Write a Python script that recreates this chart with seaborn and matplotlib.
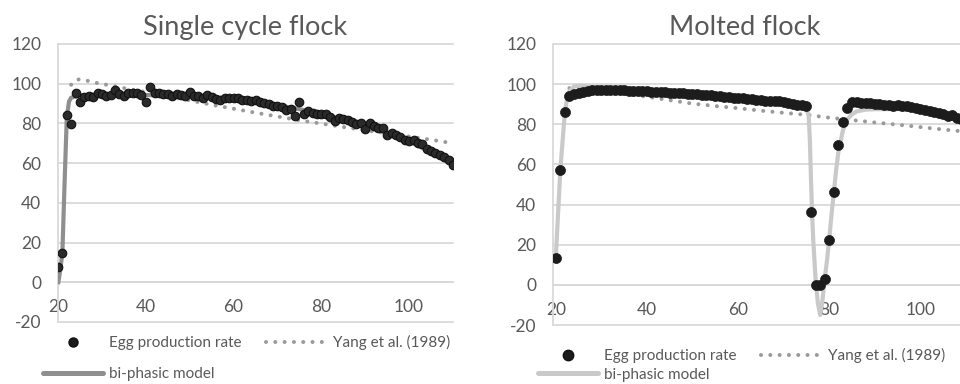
import numpy as np
import pandas as pd
import matplotlib
matplotlib.use("Agg")
import matplotlib.pyplot as plt
import seaborn as sns
from matplotlib.lines import Line2D

sns.set_theme(style="white")
plt.rcParams["font.family"] = ["Lato", "DejaVu Sans"]
plt.rcParams["axes.unicode_minus"] = False

# ---------------- data ----------------
ages_egg = list(range(20, 111))
egg_single = [7.5, 14.5, 84, 79.5, 95.5, 91, 93.5, 94, 93.5, 95.5,
              95, 94, 94.5, 97, 95, 94, 95.5, 95.5, 95.5, 94.5,
              91, 98.5, 95.5, 95.5, 95, 95, 94, 95, 94.5, 94,
              96, 94, 94, 93, 94.5, 93.5, 92.5, 92, 93, 93,
              93, 93, 92, 92, 91.5, 92, 91, 90.5, 90, 89,
              89, 88.5, 87, 87.5, 83.5, 91, 84.5, 86.5, 85.5, 85,
              84.5, 84.5, 83, 81, 82.5, 82, 81.5, 80.5, 79.5, 80,
              77, 80, 78.5, 77.5, 77.5, 74, 75, 74, 73, 71.5,
              71, 71.5, 70, 69.5, 67, 66, 65, 64, 63, 61.5, 59]
egg_molted = [13.5, 57, 86, 94, 95, 95.5, 96.3, 96.8, 97.1, 97.3,
              97.3, 97.2, 97.2, 97.1, 97, 97, 96.8, 96.6, 96.5, 96.5,
              96.4, 96.3, 96.2, 96, 95.9, 95.8, 95.7, 95.6, 95.4, 95.2,
              95.2, 95, 94.8, 94.8, 94.6, 94.3, 94, 93.8, 93.6, 93.2,
              93, 92.9, 92.8, 92.6, 92.2, 92, 91.8, 91.5, 91.4, 91.5,
              91, 90.5, 90, 89.8, 89.5, 89, 36.5, 0, 0, 3,
              22.5, 46.5, 69.5, 81, 88, 91, 91, 90.8, 90.6, 90.4,
              90.3, 90.1, 89.8, 89.6, 89.3, 89.8, 89.3, 88.9, 88.4, 88,
              87.5, 87, 86.5, 86, 85.6, 85, 84, 84.4, 83, 82.5, 82]

bp_single_age = [20, 20.5, 21, 21.5, 22, 22.5, 23, 24, 25, 27, 30, 35, 40, 45,
                 50, 55, 60, 65, 70, 75, 80, 85, 90, 95, 100, 105, 110]
bp_single_val = [-1, 6, 15, 50, 83, 91, 93, 93.5, 94, 94.3, 94.5, 94.5, 94.3, 94,
                 93.5, 92.8, 92, 90.8, 89.2, 87.2, 84.8, 82, 78.8, 75.2, 71, 65.5, 59]

bp_molted_age = [20, 21, 22, 22.5, 23, 24, 25, 27, 30, 35, 40, 45, 50, 55, 60, 65,
                 70, 72, 73, 74, 74.5, 75, 75.5, 75.75, 76, 76.25, 76.5, 77, 77.5,
                 78, 78.5, 79, 79.5, 80, 80.5, 81, 81.5, 82, 83, 84, 85, 86, 88,
                 90, 95, 100, 105, 110]
bp_molted_val = [13, 57, 86, 93, 96.5, 98.8, 99.3, 98.8, 97.8, 97, 96.3, 95.6, 94.9,
                 94.1, 93.2, 92.2, 91, 90.3, 89.8, 89, 88.5, 88, 84, 72, 52, 35, 22,
                 3, -9, -15, -8, 3, 12, 23, 35, 46, 57, 66, 77, 82.5, 85, 86.4, 87.3,
                 87.5, 87.6, 87, 85, 82]

yang_single_age = [23, 24.5, 26.5, 28.5, 31, 35, 40, 45, 50, 55, 60, 65, 70, 75,
                   80, 85, 90, 95, 100, 105, 110]
yang_single_val = [99.5, 102.2, 101.6, 100.5, 99.5, 97.8, 95.8, 93.8, 91.6, 89.4,
                   87.4, 85.4, 83.5, 81.6, 79.9, 78.2, 76.6, 75, 73.4, 71.8, 70]

yang_molted_age = [23, 25, 30, 35, 40, 45, 50, 55, 60, 65, 70, 75, 80, 85, 90,
                   95, 100, 105, 110]
yang_molted_val = [98, 98.5, 96.8, 95.3, 93.7, 92.0, 90.3, 89.1, 88.0, 86.8,
                   85.7, 84.7, 83.3, 82.1, 80.9, 79.8, 78.6, 77.4, 76.3]

titles = ["Single cycle flock", "Molted flock"]
xticks = [20, 40, 60, 80, 100]
yticks = [-20, 0, 20, 40, 60, 80, 100, 120]
labels = ["Egg production rate", "Yang et al. (1989)", "bi-phasic model"]

# ---------------- figure ----------------
W, H = 960, 384
fig = plt.figure(figsize=(W / 100, H / 100), dpi=100)

def px_axes(l, r, t, b):
    return fig.add_axes([l / W, 1 - b / H, (r - l) / W, (b - t) / H])

axL = px_axes(58, 453, 44, 322)
axR = px_axes(553, 966, 44, 325)

TXT = "#595959"
GRID = "#d9d9d9"
YANG = "#9a9a9a"
DOTS = (0, (0.01, 2.3))

panels = [
    (axL, egg_single, bp_single_age, bp_single_val, yang_single_age, yang_single_val,
     "#8f8f8f", (20, 110), dict(s=38, color="#2a2a2a", edgecolor="#111111", linewidth=0.8)),
    (axR, egg_molted, bp_molted_age, bp_molted_val, yang_molted_age, yang_molted_val,
     "#c9c9c9", (19.4, 110), dict(s=52, color="#1c1c1c", edgecolor="#1c1c1c", linewidth=0.5)),
]

for ax, egg, bpa, bpv, ya, yv, bpcol, xlim, mk in panels:
    ax.set_xlim(*xlim)
    ax.set_ylim(-20, 120)
    ax.set_yticks(yticks)
    ax.set_xticks(xticks)
    ax.grid(axis="y", color=GRID, linewidth=1.3)
    ax.grid(axis="x", visible=False)
    for g in ax.get_ygridlines():
        g.set_clip_on(False)
    sns.lineplot(x=ya, y=yv, ax=ax, color=YANG, linewidth=2.9,
                 linestyle=DOTS, dash_capstyle="round", zorder=2)
    sns.lineplot(x=bpa, y=bpv, ax=ax, color=bpcol, linewidth=3.0, zorder=3,
                 solid_capstyle="butt")
    sns.scatterplot(x=ages_egg, y=egg, ax=ax, zorder=4, **mk)
    for s in ["top", "right"]:
        ax.spines[s].set_visible(False)
    ax.spines["bottom"].set_position(("data", 0))
    ax.spines["bottom"].set_color(GRID)
    ax.spines["bottom"].set_linewidth(1.3)
    ax.spines["left"].set_color(GRID)
    ax.spines["left"].set_linewidth(1.3)
    ax.tick_params(axis="both", length=0, labelsize=12.5, labelcolor=TXT)
    ax.tick_params(axis="x", pad=12)
    ax.tick_params(axis="y", pad=12)
    ax.set_xlabel("")
    ax.set_ylabel("")

# titles
fig.text(245 / W, 1 - 35 / H, titles[0], ha="center", va="baseline",
         fontsize=19.5, color=TXT)
fig.text(745 / W, 1 - 35 / H, titles[1], ha="center", va="baseline",
         fontsize=19.5, color=TXT)

# legends
def make_legend(ax, bpcol, msize, anchor, lspace):
    h_egg = Line2D([], [], linestyle="none", marker="o", markersize=msize,
                   color="#1c1c1c", markeredgecolor="#111111")
    h_bp = Line2D([], [], color=bpcol, linewidth=3.6)
    h_y = Line2D([], [], color=YANG, linewidth=2.9,
                 linestyle=DOTS, dash_capstyle="round")
    leg = ax.legend([h_egg, h_bp, h_y], [labels[0], labels[2], labels[1]],
                    ncol=2, frameon=False, fontsize=11, labelcolor=TXT,
                    loc="upper left", bbox_to_anchor=(anchor[0] / W, 1 - anchor[1] / H),
                    bbox_transform=fig.transFigure, borderpad=0, borderaxespad=0,
                    handlelength=3.9, handletextpad=0.45, columnspacing=1.6,
                    labelspacing=lspace)
    return leg

make_legend(axL, "#8f8f8f", 6.5, (43, 335), 1.12)
make_legend(axR, "#c9c9c9", 7.5, (538, 348), 0.3)

fig.savefig("out.png", dpi=100)
